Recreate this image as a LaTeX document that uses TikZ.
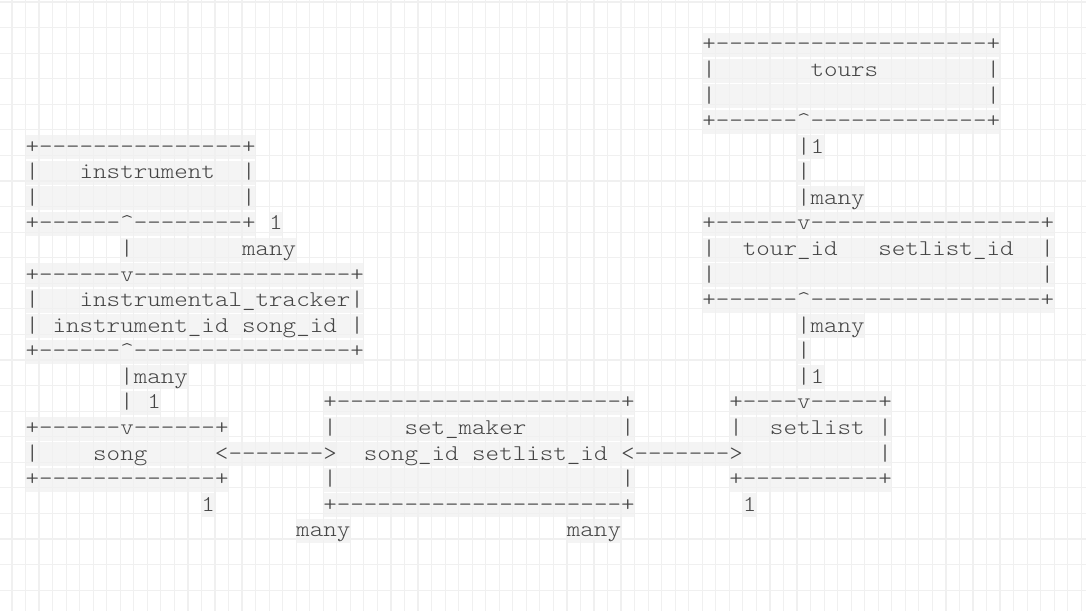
\documentclass[tikz,border=0pt]{standalone}
\usepackage{fontspec}
\usepackage{xcolor}
\newfontfamily\asciifont{lmmonolt10-regular.otf}[FakeStretch=1.146,WordSpace={1,0,0}]
\newcommand\caret{\textasciicircum}
\definecolor{tinta}{HTML}{454545}
\definecolor{rejilla}{HTML}{F0F0F0}
\definecolor{banda}{HTML}{F1F1F1}
\tikzset{
  ascii/.style={font={\asciifont\fontsize{22.5pt}{25.57pt}\selectfont},
    text=tinta, fill=banda, fill opacity=0.75, text opacity=1,
    inner sep=0pt, outer sep=0pt, anchor=base west,
    text height=18pt, text depth=6pt},
  linea/.style={draw=rejilla, line width=1.2pt}
}

\begin{document}
\begin{tikzpicture}[x=13.535pt,y=-25.57pt]
        % Paso 1: fondo blanco y rejilla
        \useasboundingbox (-1.884,-1.9945) rectangle (78.35,21.862);
        \fill[white] (-1.884,-1.9945) rectangle (78.35,21.862);
        \clip (-1.884,-1.9945) rectangle (78.35,21.862);
        \foreach \k in {-1,...,78} {\draw[linea] (\k,-2) -- (\k,22);}
        \foreach \n in {-2,...,21} {\draw[linea] (-2,\n+0.084) -- (79,\n+0.084);}

        % Paso 2: tabla tours (columna 50)
        \foreach \texto [count=\fila from 0] in {
          {+--------------------+},
          {|~~~~~~~tours~~~~~~~~|},
          {|~~~~~~~~~~~~~~~~~~~~|},
          {+------\caret-------------+}}
          {\node[ascii] (tours\fila) at (50,\fila) {\texto};}

        % Paso 3: tabla instrument y su enlace
        \foreach \texto [count=\fila from 4] in {
          {+---------------+},
          {|~~~instrument~~|},
          {|~~~~~~~~~~~~~~~|},
          {+------\caret--------+}}
          {\node[ascii] (instrument\fila) at (0,\fila) {\texto};}
        \node[ascii] (instOne) at (18,7) {1};
        \node[ascii] (instLink) at (7,8) {|~~~~~~~~many};

        % Paso 4: tabla instrumental_tracker
        \foreach \texto [count=\fila from 9] in {
          {+------v----------------+},
          {|~~~instrumental\_tracker|},
          {|~instrument\_id~song\_id~|},
          {+------\caret----------------+}}
          {\node[ascii] (tracker\fila) at (0,\fila) {\texto};}
        \foreach \texto [count=\fila from 13] in {{|many},{|~1}}
          {\node[ascii] (trackLink\fila) at (7,\fila) {\texto};}

        % Paso 5: enlace tours -> tour_id y tabla tour_id/setlist_id
        \foreach \texto [count=\fila from 4] in {{|1},{|},{|many}}
          {\node[ascii] (toursLink\fila) at (57,\fila) {\texto};}
        \foreach \texto [count=\fila from 7] in {
          {+------v-----------------+},
          {|~~tour\_id~~~setlist\_id~~|},
          {|~~~~~~~~~~~~~~~~~~~~~~~~|},
          {+------\caret-----------------+}}
          {\node[ascii] (tourSet\fila) at (50,\fila) {\texto};}
        \foreach \texto [count=\fila from 11] in {{|many},{|},{|1}}
          {\node[ascii] (setLink\fila) at (57,\fila) {\texto};}

        % Paso 6: tablas song, set_maker y setlist
        \foreach \texto [count=\fila from 15] in {
          {+------v------+},
          {|~~~~song~~~~~~},
          {+-------------+}}
          {\node[ascii] (song\fila) at (0,\fila) {\texto};}
        \foreach \texto [count=\fila from 14] in {
          {+---------------------+},
          {|~~~~~set\_maker~~~~~~~|},
          {~~~song\_id~setlist\_id~~},
          {|~~~~~~~~~~~~~~~~~~~~~|},
          {+---------------------+}}
          {\node[ascii] (setMaker\fila) at (22,\fila) {\texto};}
        \foreach \texto [count=\fila from 14] in {
          {+----v-----+},
          {|~~setlist~|},
          {~~~~~~~~~~~|},
          {+----------+}}
          {\node[ascii] (setlist\fila) at (52,\fila) {\texto};}

        % Paso 7: flechas y cardinalidades de abajo
        \node[ascii] (songArrow) at (14,16) {<------->};
        \node[ascii] (setlistArrow) at (44,16) {<------->};
        \node[ascii] (songOne) at (13,18) {1};
        \node[ascii] (setlistOne) at (53,18) {1};
        \node[ascii] (songMany) at (20,19) {many};
        \node[ascii] (setlistMany) at (40,19) {many};
    \end{tikzpicture}
\end{document}
